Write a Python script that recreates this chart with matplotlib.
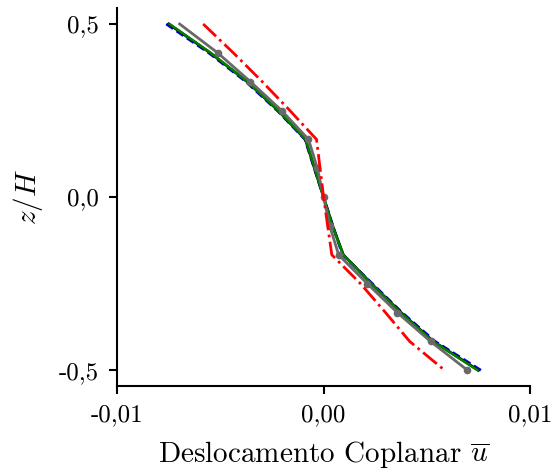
import numpy as np
import matplotlib
matplotlib.use("Agg")
import matplotlib.pyplot as plt

plt.rcParams['font.family'] = 'serif'
plt.rcParams['font.serif'] = ['cmr10', 'DejaVu Serif']
plt.rcParams['mathtext.fontset'] = 'cm'
plt.rcParams['axes.unicode_minus'] = False

# espessura normalizada z/H
z = [0.5, 5/12, 4/12, 3/12, 2/12, 1/12, 0.0, -1/12, -2/12, -3/12, -4/12, -5/12, -0.5]

u_blue = [-0.00762, -0.00556, -0.00376, -0.00224, -0.00090, -0.00045, 0.0,
          0.00045, 0.00092, 0.00236, 0.00380, 0.00540, 0.00762]
u_black = [-0.00750, -0.00549, -0.00370, -0.00220, -0.00088, -0.00044, 0.0,
           0.00044, 0.00096, 0.00232, 0.00375, 0.00532, 0.00750]
u_green = [-0.00746, -0.00547, -0.00369, -0.00219, -0.00087, -0.00043, 0.0,
           0.00043, 0.00095, 0.00231, 0.00373, 0.00530, 0.00746]
u_gray = [-0.00697, -0.00513, -0.00354, -0.00203, -0.00073, -0.00030, 0.0,
          0.00030, 0.00073, 0.00212, 0.00357, 0.00518, 0.00697]
u_red = [-0.00583, -0.00437, -0.00297, -0.00163, -0.00034, -0.00017, 0.0,
         0.00020, 0.00040, 0.00179, 0.00300, 0.00417, 0.00586]

xticks = [-0.01, 0.0, 0.01]
xticklabels = ['-0,01', '0,00', '0,01']
yticks = [-0.5, 0.0, 0.5]
yticklabels = ['-0,5', '0,0', '0,5']

fig = plt.figure(figsize=(5.55, 4.75), dpi=100)
ax = fig.add_axes([0.211, 0.187, 0.744, 0.796])

ax.plot(u_blue, z, color='blue', lw=2, ls=(0, (3, 1.5)), zorder=2)
ax.plot(u_black, z, color='black', lw=2, zorder=3)
ax.plot(u_green, z, color='green', lw=1.8, zorder=4)
ax.plot(u_gray, z, color='dimgray', lw=2, marker='o', ms=4.5,
        markevery=list(range(1, 13)), zorder=5)
ax.plot(u_red, z, color='red', lw=2, ls='-.', zorder=6)

ax.set_xlim(-0.01, 0.01)
ax.set_ylim(-0.546, 0.546)
ax.set_xticks(xticks)
ax.set_xticklabels(xticklabels)
ax.set_yticks(yticks)
ax.set_yticklabels(yticklabels)

for s in ['top', 'right']:
    ax.spines[s].set_visible(False)
for s in ['left', 'bottom']:
    ax.spines[s].set_linewidth(1.5)
ax.tick_params(width=1.5, length=6, labelsize=18, pad=7)

ax.set_xlabel(r'Deslocamento Coplanar $\overline{u}$', fontsize=21, labelpad=9)
ax.set_ylabel(r'$z/H$', fontsize=21, labelpad=10)

fig.savefig('out.png', dpi=100)
